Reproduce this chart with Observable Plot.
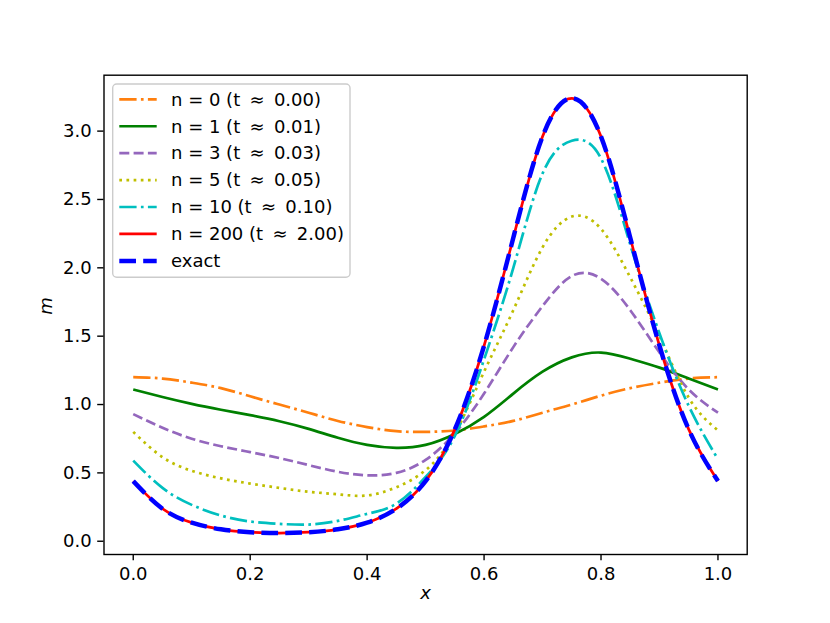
<!DOCTYPE html>
<html>
<head>
<meta charset="utf-8">
<script src="https://cdn.jsdelivr.net/npm/d3@7"></script>
<script src="https://cdn.jsdelivr.net/npm/@observablehq/plot@0.6"></script>
<style>
  html, body { margin: 0; padding: 0; background: white; }
  #chart svg { display: block; }
</style>
</head>
<body>
<div id="chart"></div>
<script>
// ---- data ----
const xs = [0, 0.05, 0.1, 0.15, 0.2, 0.25, 0.3, 0.35, 0.4, 0.45, 0.5, 0.55, 0.6, 0.65, 0.7, 0.75, 0.8, 0.85, 0.9, 0.95, 1.0];
const n0 = [1.20, 1.19, 1.16, 1.12, 1.06, 1.00, 0.94, 0.88, 0.835, 0.805, 0.80, 0.81, 0.84, 0.88, 0.94, 1.00, 1.065, 1.12, 1.16, 1.19, 1.20];
const n1 = [1.11, 1.055, 1.005, 0.962, 0.922, 0.878, 0.822, 0.757, 0.705, 0.683, 0.705, 0.785, 0.91, 1.08, 1.24, 1.345, 1.38, 1.335, 1.27, 1.19, 1.11];
const n3 = [0.93, 0.83, 0.75, 0.695, 0.652, 0.608, 0.557, 0.508, 0.482, 0.50, 0.595, 0.79, 1.08, 1.42, 1.72, 1.94, 1.92, 1.69, 1.38, 1.11, 0.94];
const n5 = [0.80, 0.615, 0.515, 0.46, 0.422, 0.39, 0.362, 0.343, 0.335, 0.395, 0.52, 0.79, 1.24, 1.69, 2.15, 2.375, 2.285, 1.93, 1.50, 1.05, 0.81];
const n10 = [0.59, 0.39, 0.266, 0.188, 0.144, 0.127, 0.122, 0.149, 0.20, 0.275, 0.47, 0.77, 1.33, 2.00, 2.69, 2.93, 2.80, 2.17, 1.52, 0.99, 0.60];
const n200 = [0.44, 0.238, 0.136, 0.087, 0.066, 0.060, 0.066, 0.087, 0.136, 0.238, 0.44, 0.818, 1.43, 2.22, 2.96, 3.24, 2.96, 2.22, 1.43, 0.818, 0.44];
const exact = [0.44, 0.238, 0.136, 0.087, 0.066, 0.060, 0.066, 0.087, 0.136, 0.238, 0.44, 0.818, 1.43, 2.22, 2.96, 3.24, 2.96, 2.22, 1.43, 0.818, 0.44];
const labels = ["n = 0 (t \u2009\u2248\u2009 0.00)", "n = 1 (t \u2009\u2248\u2009 0.01)", "n = 3 (t \u2009\u2248\u2009 0.03)", "n = 5 (t \u2009\u2248\u2009 0.05)", "n = 10 (t \u2009\u2248\u2009 0.10)", "n = 200 (t \u2009\u2248\u2009 2.00)", "exact"];
const xTicks = [0, 0.2, 0.4, 0.6, 0.8, 1.0];
const yTicks = [0, 0.5, 1.0, 1.5, 2.0, 2.5, 3.0];

// ---- styles ----
const values = [n0, n1, n3, n5, n10, n200, exact];
const colors = ["#ff7f0e", "#008000", "#9467bd", "#bfbf00", "#00bfbf", "#ff0000", "#0000ff"];
const widths = [2.7, 2.7, 2.7, 2.7, 2.7, 2.7, 4.5];
const dashes = ["17.3,4.3,2.7,4.3", null, "10,4.3", "2.7,4.46", "17.3,4.3,2.7,4.3", null, "16.7,7.2"];

const rows = values.flatMap((vals, i) => xs.map((x, j) => ({s: i, x, y: vals[j]})));

const fmt = d3.format(".1f");
const plot = Plot.plot({
  width: 830,
  height: 623,
  marginLeft: 103.5,
  marginRight: 83.3,
  marginTop: 74.7,
  marginBottom: 69,
  style: {fontFamily: "DejaVu Sans", fontSize: "18px", background: "white", color: "black"},
  x: {domain: [-0.05, 1.05]},
  y: {domain: [-0.097, 3.409]},
  marks: [
    ...values.map((_, i) => Plot.line(rows.filter(r => r.s === i), {
      x: "x", y: "y", stroke: colors[i], strokeWidth: widths[i],
      strokeDasharray: dashes[i] || undefined, strokeLinecap: "butt", curve: "natural"
    })),
    Plot.frame({stroke: "black", strokeWidth: 1.4}),
    Plot.axisX({ticks: xTicks, tickFormat: fmt, tickSize: 6.3, tickPadding: 6, strokeWidth: 1.4, fontSize: 18, label: null}),
    Plot.axisY({ticks: yTicks, tickFormat: fmt, tickSize: 6.3, tickPadding: 6, strokeWidth: 1.4, fontSize: 18, label: null}),
    Plot.text(["x"], {frameAnchor: "bottom", text: d => d, dy: 44, fontStyle: "italic", fontSize: 18, fill: "black"}),
    Plot.text(["m"], {frameAnchor: "left", text: d => d, dx: -58, rotate: -90, fontStyle: "italic", fontSize: 18, fill: "black"})
  ]
});
document.getElementById("chart").appendChild(plot);

// ---- legend (upper left, inside axes) ----
const svg = d3.select(plot);
const lg = svg.append("g").attr("class", "legend").attr("text-anchor", "start");
lg.append("rect")
  .attr("x", 112.7).attr("y", 84).attr("width", 237.3).attr("height", 193.3)
  .attr("rx", 4).attr("fill", "white").attr("fill-opacity", 0.8)
  .attr("stroke", "#cccccc").attr("stroke-width", 1.4);
labels.forEach((lab, i) => {
  const yy = 99.3 + i * 26.93;
  const ln = lg.append("line")
    .attr("x1", 119.3).attr("x2", 156.7).attr("y1", yy).attr("y2", yy)
    .attr("stroke", colors[i]).attr("stroke-width", widths[i]);
  if (dashes[i]) ln.attr("stroke-dasharray", dashes[i]);
  lg.append("text")
    .attr("x", 171).attr("y", yy).attr("dy", "0.35em")
    .attr("text-anchor", "start")
    .attr("font-family", "DejaVu Sans").attr("font-size", 18).attr("fill", "black")
    .text(lab);
});
</script>
</body>
</html>
